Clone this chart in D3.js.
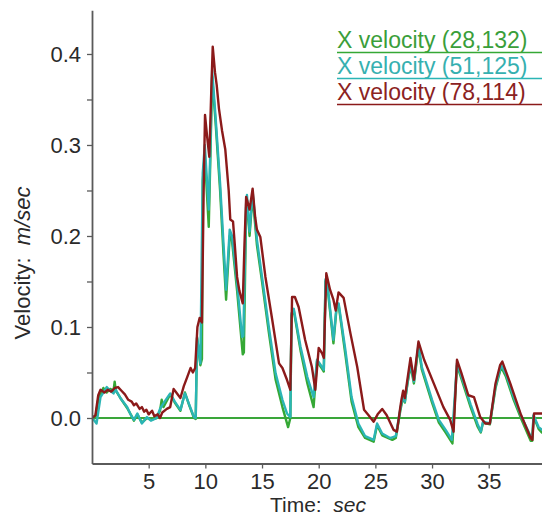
<!DOCTYPE html>
<html><head><meta charset="utf-8">
<script src="https://cdn.jsdelivr.net/npm/d3@7"></script>
<style>
html,body{margin:0;padding:0;background:#fff;}
svg{display:block;font-family:"Liberation Sans",Arial,sans-serif;}
</style></head>
<body><svg id="c" width="542" height="517"></svg>
<script>
// ---- data ----
const seriesNames = ["X velocity (28,132)", "X velocity (51,125)", "X velocity (78,114)"];
const seriesColors = ["#35a835", "#2bb5b5", "#8b1a1a"];
const yMajorTicks = [0, 0.1, 0.2, 0.3, 0.4];
const yMinorTicks = [0.05, 0.15, 0.25, 0.35];
const xTicks = [5, 10, 15, 20, 25, 30, 35];

const green = [[0,0],[0.3,0.0],[0.57,0.022],[0.8,0.027],[1.0,0.033],[1.3,0.028],[1.6,0.032],[1.9,0.03],[2.0,0.04],[2.1,0.03],[2.5,0.022],[3.1,0.011],[3.5,0.002],[3.7,-0.003],[4.0,0.004],[4.4,-0.005],[4.85,0.0],[5.2,-0.002],[5.7,0.0],[6.0,0.008],[6.15,0.02],[6.3,0.012],[6.9,0.026],[7.3,0.017],[7.8,0.008],[8.2,0.028],[8.6,0.013],[9.0,0.0],[9.15,-0.001],[9.27,0.088],[9.56,0.058],[9.7,0.065],[9.77,0.26],[9.95,0.29],[10.3,0.21],[10.45,0.29],[10.6,0.375],[10.9,0.325],[11.3,0.25],[11.6,0.18],[11.83,0.13],[12.15,0.2],[12.35,0.195],[12.8,0.14],[13.3,0.07],[13.4,0.072],[13.6,0.232],[13.67,0.24],[13.9,0.2],[14.17,0.245],[14.55,0.19],[15.0,0.15],[15.6,0.094],[16.2,0.042],[16.8,0.012],[17.3,-0.01],[17.5,0.0],[17.6,0.113],[17.8,0.118],[18.4,0.074],[19.0,0.038],[19.55,0.012],[19.85,0.062],[20.3,0.054],[20.45,0.051],[20.6,0.15],[20.7,0.153],[21.3,0.082],[21.6,0.124],[21.76,0.124],[22.35,0.07],[22.9,0.018],[23.5,-0.01],[24.1,-0.022],[24.85,-0.026],[25.15,-0.008],[25.6,-0.019],[26.5,-0.024],[26.8,-0.022],[27.2,0.008],[27.45,0.024],[27.6,0.017],[27.8,0.035],[28.1,0.058],[28.4,0.038],[28.8,0.078],[29.1,0.053],[30.0,0.017],[30.6,-0.005],[31.2,-0.016],[31.8,-0.028],[32.2,0.058],[32.8,0.035],[33.4,0.012],[34.0,-0.009],[34.3,-0.016],[34.5,-0.005],[35.1,-0.007],[35.6,0.033],[36.1,0.056],[36.5,0.046],[37.2,0.02],[37.9,-0.002],[38.7,-0.025],[38.85,-0.025],[38.95,0.002],[39.4,-0.012],[39.7,-0.016]];

const cyan = [[0,0],[0.15,-0.002],[0.4,-0.006],[0.75,0.023],[1.0,0.028],[1.3,0.034],[1.6,0.03],[1.9,0.027],[2.1,0.031],[2.5,0.022],[3.1,0.012],[3.4,0.004],[3.7,-0.002],[4.0,0.005],[4.4,-0.006],[4.85,0.001],[5.2,-0.003],[5.7,0.0],[6.0,0.01],[6.4,0.018],[6.9,0.027],[7.3,0.018],[7.8,0.009],[8.2,0.027],[8.6,0.014],[9.0,0.001],[9.15,0.0],[9.27,0.089],[9.56,0.06],[9.77,0.269],[9.95,0.3],[10.3,0.229],[10.45,0.3],[10.6,0.382],[10.9,0.331],[11.3,0.258],[11.6,0.192],[11.83,0.141],[12.15,0.207],[12.35,0.2],[12.8,0.148],[13.24,0.089],[13.35,0.09],[13.6,0.236],[13.67,0.245],[13.9,0.205],[14.17,0.249],[14.55,0.196],[15.0,0.155],[15.6,0.1],[16.2,0.049],[16.8,0.02],[17.2,0.005],[17.5,0.001],[17.6,0.115],[17.8,0.12],[18.4,0.078],[19.0,0.045],[19.55,0.023],[19.85,0.064],[20.3,0.056],[20.45,0.053],[20.6,0.152],[20.7,0.155],[21.3,0.086],[21.6,0.126],[21.76,0.126],[22.35,0.075],[22.9,0.023],[23.5,-0.006],[24.1,-0.02],[24.85,-0.024],[25.15,-0.006],[25.6,-0.017],[26.3,-0.022],[26.8,-0.02],[27.2,0.01],[27.45,0.025],[27.6,0.018],[27.8,0.036],[28.1,0.06],[28.4,0.04],[28.8,0.08],[29.1,0.056],[30.0,0.02],[30.6,-0.002],[31.2,-0.013],[31.75,-0.024],[32.2,0.06],[32.8,0.038],[33.4,0.015],[34.0,-0.006],[34.3,-0.015],[34.5,-0.004],[35.1,-0.006],[35.6,0.035],[36.1,0.058],[36.5,0.049],[37.2,0.023],[37.9,0.001],[38.7,-0.02],[38.85,-0.022],[38.95,0.003],[39.4,-0.01],[39.7,-0.013]];

const red = [[0,0],[0.3,0.003],[0.55,0.025],[0.75,0.031],[1.1,0.028],[1.4,0.031],[1.7,0.029],[2.0,0.033],[2.3,0.034],[2.6,0.03],[2.9,0.026],[3.2,0.02],[3.5,0.018],[3.7,0.014],[3.9,0.016],[4.2,0.01],[4.4,0.012],[4.6,0.007],[4.8,0.009],[5.0,0.004],[5.3,0.008],[5.5,0.002],[5.8,0.004],[6.0,0.0],[6.2,0.006],[6.6,0.01],[6.9,0.012],[7.2,0.032],[7.5,0.027],[7.8,0.022],[8.1,0.035],[8.4,0.045],[8.7,0.055],[8.9,0.05],[9.1,0.055],[9.3,0.1],[9.5,0.11],[9.7,0.105],[9.85,0.25],[9.97,0.333],[10.15,0.31],[10.35,0.287],[10.5,0.35],[10.65,0.408],[10.85,0.38],[11.0,0.366],[11.2,0.34],[11.47,0.316],[11.76,0.295],[12.06,0.25],[12.2,0.218],[12.44,0.216],[12.6,0.19],[12.8,0.155],[13.0,0.14],[13.3,0.126],[13.45,0.19],[13.6,0.243],[13.9,0.229],[14.17,0.252],[14.4,0.22],[14.55,0.207],[14.85,0.199],[15.3,0.155],[15.9,0.108],[16.5,0.06],[16.8,0.055],[17.2,0.042],[17.5,0.031],[17.65,0.133],[17.9,0.133],[18.23,0.122],[18.8,0.086],[19.4,0.056],[19.7,0.031],[20.0,0.077],[20.3,0.071],[20.45,0.066],[20.67,0.159],[21.0,0.141],[21.3,0.13],[21.5,0.118],[21.75,0.138],[22.2,0.132],[22.8,0.093],[23.4,0.056],[24.0,0.009],[24.4,0.003],[24.85,-0.004],[25.2,0.004],[25.6,0.01],[26.0,0.003],[26.6,-0.013],[26.9,-0.015],[27.2,0.012],[27.3,0.02],[27.45,0.03],[27.6,0.022],[27.8,0.04],[28.1,0.066],[28.4,0.042],[28.8,0.084],[29.3,0.064],[30.15,0.038],[31.0,0.012],[31.6,-0.002],[31.9,-0.015],[32.2,0.064],[32.6,0.049],[33.2,0.025],[33.7,0.023],[34.25,0.001],[34.7,-0.006],[35.1,-0.006],[35.6,0.038],[36.0,0.058],[36.2,0.062],[36.9,0.038],[37.8,0.005],[38.7,-0.022],[38.85,-0.024],[39.0,0.005],[39.7,0.005]];

// ---- chart ----
const svg = d3.select("#c");
const x = d3.scaleLinear().domain([0, 40]).range([92, 545.4]);
const y = d3.scaleLinear().domain([-0.05, 0.448]).range([463.5, 10.3]);
const axisColor = "#5a5a5a";

svg.append("defs").append("clipPath").attr("id","plot")
  .append("rect").attr("x",92).attr("y",0).attr("width",460).attr("height",463);

// zero line
svg.append("line").attr("x1", x(0)).attr("x2", 542).attr("y1", y(0)).attr("y2", y(0))
  .attr("stroke", "#3aa63a").attr("stroke-width", 2);

const line = d3.line().x(d => x(d[0])).y(d => y(d[1]));
const g = svg.append("g").attr("clip-path","url(#plot)");
[green, cyan, red].forEach((s, i) => {
  g.append("path").datum(s).attr("d", line).attr("fill","none")
    .attr("stroke", seriesColors[i]).attr("stroke-width", 2.4)
    .attr("stroke-linejoin","round").attr("stroke-linecap","round");
});

// y axis
const yAx = svg.append("g").attr("transform", `translate(${x(0)},0)`)
  .call(d3.axisLeft(y).tickValues(yMajorTicks).tickFormat(d3.format(".1f")).tickSize(5).tickSizeOuter(0));
svg.append("g").attr("transform", `translate(${x(0)},0)`)
  .call(d3.axisLeft(y).tickValues(yMinorTicks).tickFormat("").tickSize(5).tickSizeOuter(0))
  .select(".domain").remove();
// x axis
const xAx = svg.append("g").attr("transform", `translate(0,${y(-0.05)})`)
  .call(d3.axisBottom(x).tickValues(xTicks).tickFormat(d3.format("d")).tickSize(5).tickSizeOuter(0));

svg.selectAll(".domain").attr("stroke", axisColor).attr("stroke-width", 1.8);
svg.selectAll(".tick line").attr("stroke", axisColor).attr("stroke-width", 1.3);
svg.selectAll(".tick text").attr("fill", "#2a2a2a").style("font-size", "22px")
  .style("font-family", '"Liberation Sans",Arial,sans-serif');
yAx.selectAll(".tick text").attr("x", -11).attr("dy", "0.36em");
xAx.selectAll(".tick text").attr("y", 25.5).attr("dy", 0);

// axis titles
const xt = svg.append("text").attr("x", 318).attr("y", 512).attr("text-anchor","middle")
  .attr("fill","#2a2a2a").style("font-size","21px").attr("xml:space","preserve");
xt.append("tspan").text("Time:  ");
xt.append("tspan").style("font-style","italic").text("sec");

const yt = svg.append("text").attr("transform","translate(30,263) rotate(-90)")
  .attr("text-anchor","middle").attr("fill","#2a2a2a").style("font-size","22px").attr("xml:space","preserve");
yt.append("tspan").text("Velocity:  ");
yt.append("tspan").style("font-style","italic").text("m/sec");

// legend
const legTextColors = ["#3a9e3a", "#36b0b0", "#8b2222"];
const legend = svg.append("g");
seriesNames.forEach((n, i) => {
  const by = 48 + i * 26;
  legend.append("text").attr("x", 337).attr("y", by).attr("fill", legTextColors[i])
    .style("font-size","23px").text(n);
  legend.append("line").attr("x1", 337).attr("x2", 542).attr("y1", by + 4.5).attr("y2", by + 4.5)
    .attr("stroke", seriesColors[i]).attr("stroke-width", 1.3);
});
</script></body></html>
